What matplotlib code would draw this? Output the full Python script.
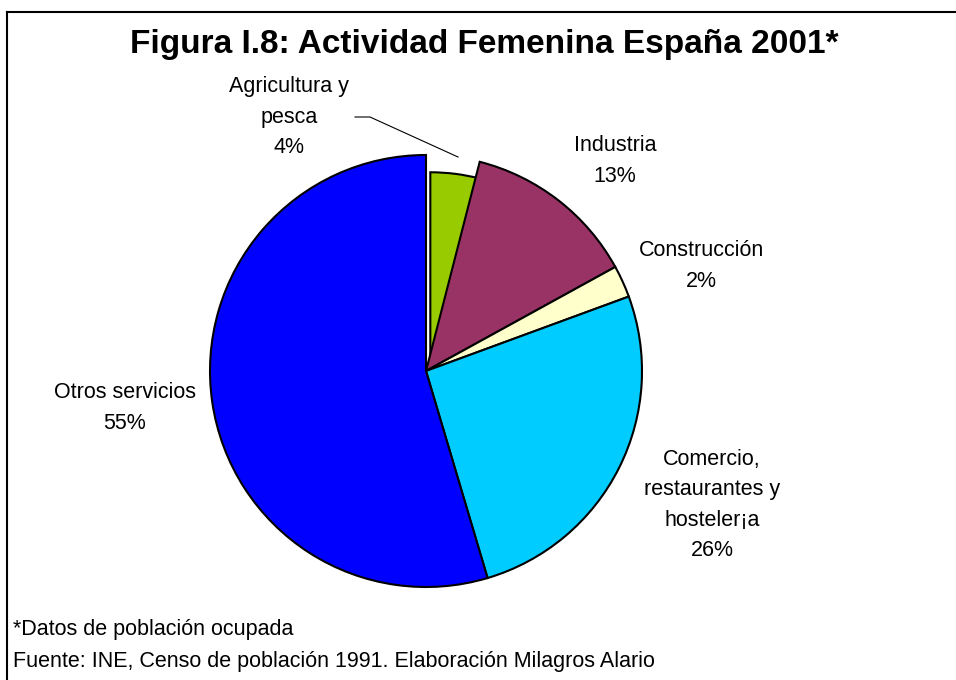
import matplotlib.pyplot as plt
from matplotlib.lines import Line2D

plt.rcParams["font.family"] = ["Liberation Sans", "DejaVu Sans"]

sectors = ["Agricultura y\npesca", "Industria", "Construcción",
           "Comercio,\nrestaurantes y\nhosteler¡a", "Otros servicios"]
shares = [4.0, 13.0, 2.4, 26.0, 54.6]
colors = ["#99CC00", "#993366", "#FFFFCC", "#00CCFF", "#0000FF"]

W, H = 956, 680
fig = plt.figure(figsize=(W / 100, H / 100), dpi=100)

# outer frame (top and left edges visible)
fig.add_artist(Line2D([7 / W, 1], [1 - 12 / H, 1 - 12 / H], color="black", lw=1.5))
fig.add_artist(Line2D([7 / W, 7 / W], [0, 1 - 12 / H], color="black", lw=1.5))

cx, cy, r = 426, 371, 216
ax = fig.add_axes([(cx - r) / W, (H - cy - r) / H, 2 * r / W, 2 * r / H])
wedges, _ = ax.pie(shares, colors=colors, startangle=90, counterclock=False,
                   radius=1.0, wedgeprops=dict(edgecolor="black", linewidth=1.5))
# the small first slice is drawn a bit shorter in the original
wedges[0].set_radius(0.92)
wedges[0].set_center((0.02, 0))
ax.set_xlim(-1, 1)
ax.set_ylim(-1, 1)
ax.set_aspect("equal")
ax.axis("off")

fs = 15.5
label_pos = [(289, 117), (615, 161), (701, 266), (712, 505), (125, 408)]
for name, val, (px, py) in zip(sectors, shares, label_pos):
    fig.text(px / W, 1 - py / H, f"{name}\n{val:.0f}%", ha="center", va="center",
             fontsize=fs, linespacing=1.6)

# leader line for Agricultura
fig.add_artist(Line2D([355 / W, 370 / W, 458 / W],
                      [1 - 117 / H, 1 - 117 / H, 1 - 157 / H], color="black", lw=0.8))

fig.text(484 / W, 1 - 44 / H, "Figura I.8: Actividad Femenina España 2001*",
         ha="center", va="center", fontsize=24, fontweight="bold")
fig.text(13 / W, 1 - 630 / H, "*Datos de población ocupada", ha="left", va="center",
         fontsize=15.5)
fig.text(13 / W, 1 - 661 / H,
         "Fuente: INE, Censo de población 1991. Elaboración Milagros Alario",
         ha="left", va="center", fontsize=15.5)

fig.savefig("out.png", dpi=100)
